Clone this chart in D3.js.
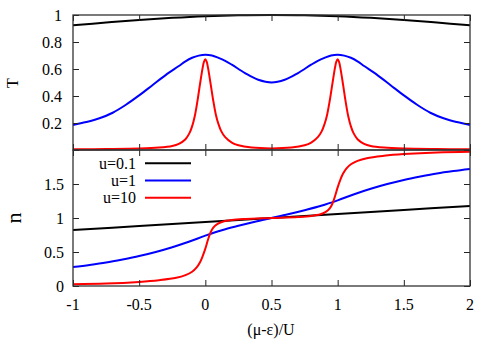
<!DOCTYPE html>
<html>
<head>
<meta charset="utf-8">
<script src="https://cdn.jsdelivr.net/npm/d3@7"></script>
<style>
  html, body { margin: 0; padding: 0; background: #fff; }
  svg { display: block; }
</style>
</head>
<body>
<svg id="chart" width="485" height="347" font-family="Liberation Serif"></svg>
<script>
// ---------- data ----------
const xTicks = [-1, -0.5, 0, 0.5, 1, 1.5, 2];
const xTickLabels = ["-1", "-0.5", "0", "0.5", "1", "1.5", "2"];
const tTicks = [0, 0.2, 0.4, 0.6, 0.8, 1];
const tTickLabels = ["", "0.2", "0.4", "0.6", "0.8", "1"];
const nTicks = [0, 0.5, 1, 1.5, 2];
const nTickLabels = ["0", "0.5", "1", "1.5", ""];
const seriesNames = ["u=0.1", "u=1", "u=10"];
const seriesColors = ["#000000", "#0000ff", "#ff0000"];
const xLabel = "(μ-ε)/U";
const tLabel = "T";
const nLabel = "n";

// Transmission T (top panel)
const tU01 = [[-1,0.924],[-0.75,0.944],[-0.5,0.963],[-0.25,0.979],[0,0.991],[0.25,0.998],[0.5,1.0],
  [0.75,0.998],[1,0.991],[1.25,0.979],[1.5,0.963],[1.75,0.944],[2,0.924]];
const tU1 = [[-1,0.185],[-0.9,0.207],[-0.8,0.235],[-0.7,0.276],[-0.6,0.335],[-0.5,0.405],[-0.4,0.48],
  [-0.3,0.555],[-0.2,0.622],[-0.15,0.657],[-0.1,0.683],[-0.05,0.699],[0,0.706],[0.05,0.70],[0.1,0.682],
  [0.15,0.66],[0.2,0.632],[0.3,0.57],[0.4,0.52],[0.5,0.5],[0.6,0.52],[0.7,0.57],[0.8,0.632],
  [0.85,0.66],[0.9,0.682],[0.95,0.70],[1,0.706],[1.05,0.699],[1.1,0.683],[1.15,0.657],[1.2,0.622],
  [1.3,0.555],[1.4,0.48],[1.5,0.405],[1.6,0.335],[1.7,0.276],[1.8,0.235],[1.9,0.207],[2,0.185]];
const tU10 = [[-1,0.005],[-0.75,0.007],[-0.5,0.011],[-0.35,0.018],[-0.25,0.03],[-0.2,0.046],[-0.15,0.08],
  [-0.12,0.125],[-0.1,0.175],[-0.08,0.25],[-0.06,0.36],[-0.04,0.49],[-0.02,0.61],[-0.01,0.655],[0,0.672],
  [0.01,0.655],[0.02,0.61],[0.04,0.49],[0.06,0.365],[0.08,0.26],[0.1,0.19],[0.12,0.14],[0.15,0.095],
  [0.2,0.055],[0.25,0.035],[0.35,0.018],[0.5,0.012],[0.65,0.018],[0.75,0.035],[0.8,0.055],[0.85,0.095],
  [0.88,0.14],[0.9,0.19],[0.92,0.26],[0.94,0.365],[0.96,0.49],[0.98,0.61],[0.99,0.655],[1,0.672],
  [1.01,0.655],[1.02,0.61],[1.04,0.49],[1.06,0.36],[1.08,0.25],[1.1,0.175],[1.12,0.125],[1.15,0.08],
  [1.2,0.046],[1.25,0.03],[1.35,0.018],[1.5,0.011],[1.75,0.007],[2,0.005]];

// Occupation n (bottom panel)
const nU01 = [[-1,0.823],[-0.5,0.882],[0,0.941],[0.5,1.0],[1,1.059],[1.5,1.118],[2,1.177]];
const nU1 = [[-1,0.28],[-0.875,0.31],[-0.75,0.345],[-0.625,0.39],[-0.5,0.44],[-0.375,0.5],[-0.25,0.57],
  [-0.125,0.65],[0,0.74],[0.125,0.82],[0.25,0.885],[0.375,0.945],[0.5,1.0],[0.625,1.055],[0.75,1.115],
  [0.875,1.18],[1,1.26],[1.125,1.35],[1.25,1.43],[1.375,1.5],[1.5,1.56],[1.625,1.61],[1.75,1.655],
  [1.875,1.69],[2,1.72]];
const nU10 = [[-1,0.025],[-0.75,0.035],[-0.5,0.06],[-0.35,0.085],[-0.22,0.12],[-0.15,0.16],[-0.1,0.21],
  [-0.067,0.27],[-0.04,0.35],[-0.02,0.44],[0,0.55],[0.02,0.68],[0.04,0.79],[0.06,0.86],[0.09,0.91],
  [0.13,0.945],[0.2,0.97],[0.3,0.985],[0.5,1.0],[0.7,1.015],[0.8,1.03],[0.87,1.055],[0.91,1.09],
  [0.94,1.14],[0.96,1.21],[0.98,1.32],[1,1.45],[1.02,1.56],[1.04,1.65],[1.067,1.73],[1.1,1.79],
  [1.15,1.84],[1.22,1.88],[1.35,1.915],[1.5,1.94],[1.75,1.965],[2,1.975]];

const tSeries = [tU01, tU1, tU10];
const nSeries = [nU01, nU1, nU10];

// ---------- layout ----------
const FONT = "Liberation Serif";
const svg = d3.select("#chart");
const left = 73, right = 470;
const topTop = 15, topBottom = 150, botTop = 150, botBottom = 286;
const tickLen = 6;
const fontSize = 16;

const x = d3.scaleLinear().domain([-1, 2]).range([left, right]);
const yT = d3.scaleLinear().domain([0, 1]).range([topBottom, topTop]);
const yN = d3.scaleLinear().domain([0, 2]).range([botBottom, botTop]);

function styleText(sel, size) {
  sel.attr("font-family", FONT).attr("font-size", size).attr("fill", "#000");
}

function drawPanel(y, ticks, labels, yTop, yBot, series, labelX) {
  const g = svg.append("g");
  const line = d3.line().x(d => x(d[0])).y(d => y(d[1])).curve(d3.curveCatmullRom.alpha(0.5));
  series.forEach((s, i) => {
    g.append("path").datum(s).attr("d", line)
      .attr("fill", "none").attr("stroke", seriesColors[i])
      .attr("stroke-width", 2).attr("stroke-linejoin", "round");
  });
  const axL = d3.axisLeft(y).tickValues(ticks).tickSize(-tickLen).tickFormat((d, i) => labels[i]);
  const axR = d3.axisRight(y).tickValues(ticks).tickSize(-tickLen).tickFormat("");
  const axB = d3.axisBottom(x).tickValues(xTicks).tickSize(-tickLen).tickFormat("");
  const axT = d3.axisTop(x).tickValues(xTicks).tickSize(-tickLen).tickFormat("");
  const gl = g.append("g").attr("transform", `translate(${left},0)`).call(axL);
  g.append("g").attr("transform", `translate(${right},0)`).call(axR);
  g.append("g").attr("transform", `translate(0,${yBot})`).call(axB);
  g.append("g").attr("transform", `translate(0,${yTop})`).call(axT);
  g.selectAll(".domain").remove();
  g.selectAll(".tick line").attr("stroke", "#222").attr("stroke-width", 1);
  gl.attr("font-family", FONT).attr("font-size", fontSize);
  gl.selectAll("text").attr("x", labelX - left).attr("dy", "0.33em").call(styleText, fontSize);
  g.append("rect").attr("x", left).attr("y", yTop).attr("width", right - left).attr("height", yBot - yTop)
    .attr("fill", "none").attr("stroke", "#333").attr("stroke-width", 1.3);
}

drawPanel(yT, tTicks, tTickLabels, topTop, topBottom, tSeries, 62);
drawPanel(yN, nTicks, nTickLabels, botTop, botBottom, nSeries, 64);

// x tick labels
svg.append("g").selectAll("text").data(xTicks).join("text")
  .attr("x", d => x(d)).attr("y", 309.5).attr("text-anchor", "middle")
  .text((d, i) => xTickLabels[i]).call(styleText, fontSize);

// axis labels
svg.append("text").attr("x", 271).attr("y", 335).attr("text-anchor", "middle")
  .text(xLabel).call(styleText, fontSize);
svg.append("text").attr("transform", "translate(18,83) rotate(-90)").attr("text-anchor", "middle")
  .text(tLabel).call(styleText, fontSize);
svg.append("text").attr("transform", "translate(21,218) rotate(-90)").attr("text-anchor", "middle")
  .text(nLabel).call(styleText, 22);

// legend
const legend = svg.append("g");
seriesNames.forEach((name, i) => {
  const yy = 163.3 + i * 17.2;
  legend.append("text").attr("x", 136).attr("y", yy).attr("dy", "0.33em")
    .attr("text-anchor", "end").text(name).call(styleText, fontSize);
  legend.append("line").attr("x1", 145).attr("x2", 191).attr("y1", yy).attr("y2", yy)
    .attr("stroke", seriesColors[i]).attr("stroke-width", 2);
});
</script>
</body>
</html>
